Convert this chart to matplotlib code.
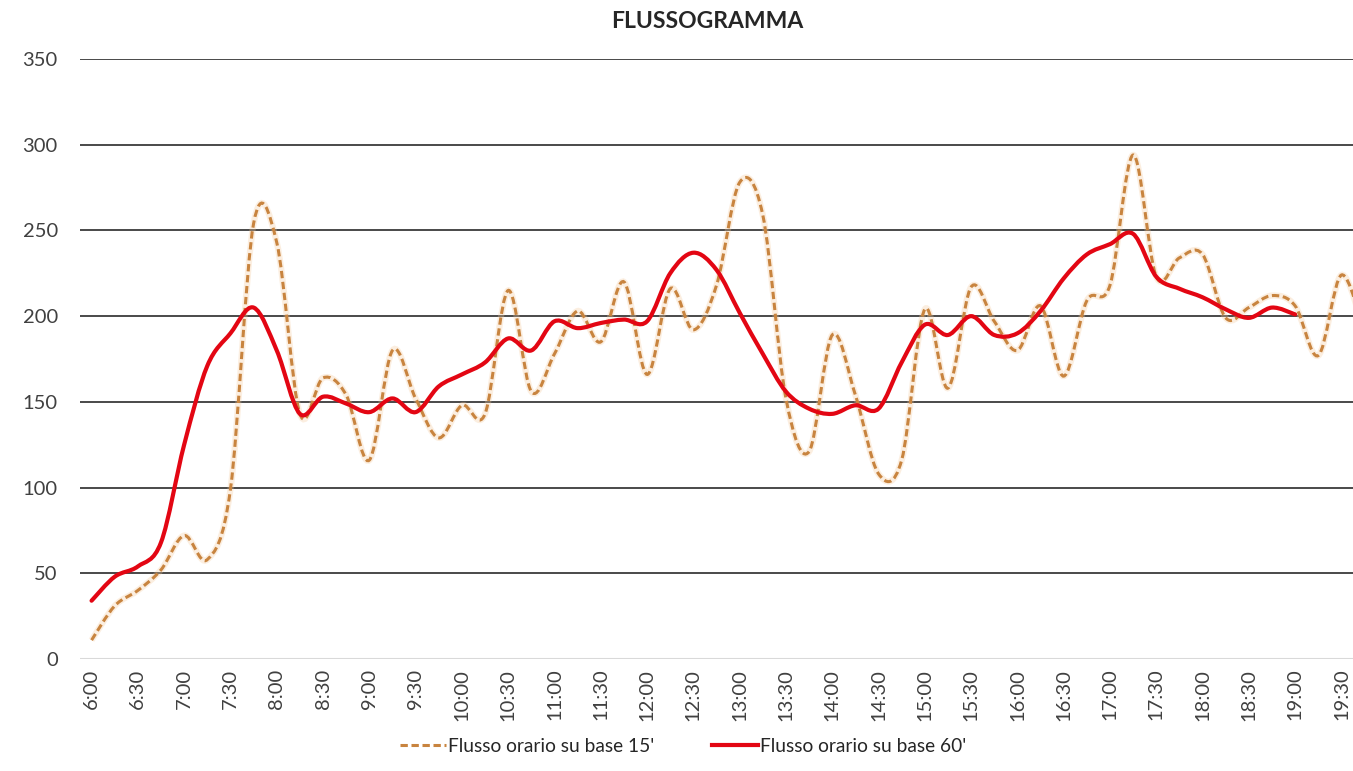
import numpy as np
import matplotlib
matplotlib.use("Agg")
import matplotlib.pyplot as plt
from matplotlib.path import Path
from matplotlib.patches import PathPatch
from matplotlib.lines import Line2D

plt.rcParams['font.family'] = ['Lato', 'DejaVu Sans']

# 15-minute categories from 6:00 to 19:45
times = [f"{6 + (15 * k) // 60}:{(15 * k) % 60:02d}" for k in range(56)]
tick_labels = times[::2][:28]  # 6:00, 6:30, ... 19:30

flow_15 = [11, 31, 40, 52, 72, 58, 99, 254, 243, 143,
           164, 154, 116, 180, 152, 129, 148, 143, 215, 156,
           178, 203, 185, 220, 166, 216, 192, 218, 278, 259,
           152, 121, 189, 154, 108, 116, 204, 158, 217, 197,
           180, 206, 165, 209, 218, 294, 223, 234, 236, 199,
           205, 212, 206, 177, 224, 190]

flow_60 = [34, 48, 54, 68, 125, 171, 190, 205, 180, 143,
           153, 149, 144, 152, 144, 159, 166, 173, 187, 180,
           197, 193, 196, 198, 197, 225, 237, 227, 202, 178,
           156, 146, 143, 148, 146, 173, 195, 189, 200, 189,
           190, 203, 222, 236, 242, 248, 223, 216, 211, 204,
           199, 205, 201]

series_names = ["Flusso orario su base 15'", "Flusso orario su base 60'"]


def smooth_path(xs, ys):
    """Catmull-Rom style smoothed path (like Excel smoothed lines)."""
    xs = np.asarray(xs, float)
    ys = np.asarray(ys, float)
    pts = np.column_stack([xs, ys])
    n = len(pts)
    verts = [pts[0]]
    codes = [Path.MOVETO]
    for i in range(n - 1):
        p0 = pts[i - 1] if i > 0 else pts[i]
        p1 = pts[i]
        p2 = pts[i + 1]
        p3 = pts[i + 2] if i + 2 < n else pts[i + 1]
        c1 = p1 + (p2 - p0) / 6.0
        c2 = p2 - (p3 - p1) / 6.0
        verts += [c1, c2, p2]
        codes += [Path.CURVE4] * 3
    return Path(verts, codes)


fig = plt.figure(figsize=(13.53, 7.71), dpi=100)
ax = fig.add_axes([80 / 1353, (771 - 659) / 771, 1 - 80 / 1353, 600 / 771])

ax.set_xlim(-0.5, 54.5)
ax.set_ylim(0, 350)

# gridlines
for v in range(50, 351, 50):
    ax.axhline(v, color='#3a3a3a', lw=1.3, zorder=1)
ax.axhline(0, color='#d9d9d9', lw=1.5, zorder=1)

x15 = np.arange(len(flow_15))
x60 = np.arange(len(flow_60))

dash_color = '#C8843F'
red_color = '#E30613'

# faint halo under dashed line
halo = PathPatch(smooth_path(x15, flow_15), facecolor='none',
                 edgecolor='#F5C99A', lw=4.5, alpha=0.3, zorder=2)
ax.add_patch(halo)
p15 = PathPatch(smooth_path(x15, flow_15), facecolor='none',
                edgecolor=dash_color, lw=2.2, zorder=3, linestyle=(0, (2.4, 1.2)))
ax.add_patch(p15)
p60 = PathPatch(smooth_path(x60, flow_60), facecolor='none',
                edgecolor=red_color, lw=3.0, zorder=4, capstyle='round',
                joinstyle='round')
ax.add_patch(p60)

for s in ax.spines.values():
    s.set_visible(False)

ax.set_xticks(np.arange(0, 55, 2))
ax.set_xticklabels(tick_labels, rotation=90, fontsize=14.5, color='#404040')
ax.set_yticks(np.arange(0, 351, 50))
ax.set_yticklabels([str(v) for v in range(0, 351, 50)], fontsize=14.5, color='#404040')
ax.tick_params(axis='both', length=0)
ax.tick_params(axis='x', pad=7)
ax.tick_params(axis='y', pad=16)

fig.text(707 / 1353, 1 - 22 / 771, "FLUSSOGRAMMA", ha='center', va='center',
         fontsize=16.5, fontweight='bold', color='#262626')

handles = [Line2D([], [], color=dash_color, lw=2.2, linestyle=(0, (2.4, 1.2))),
           Line2D([], [], color=red_color, lw=3.0)]
fig.legend(handles, series_names, loc='center', bbox_to_anchor=(683 / 1353, 1 - 746 / 771),
           ncol=2, frameon=False, fontsize=13.8, handlelength=2.4, handletextpad=0.1,
           columnspacing=3.0, labelcolor='#262626')

fig.savefig("out.png", dpi=100, facecolor='white')
